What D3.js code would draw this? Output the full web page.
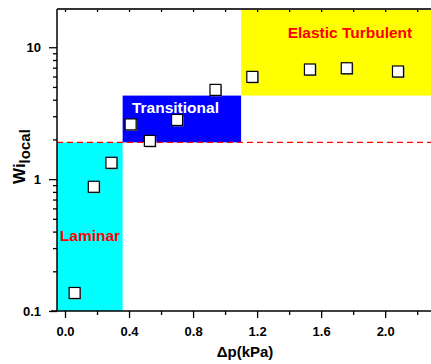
<!DOCTYPE html>
<html>
<head>
<meta charset="utf-8">
<script src="https://cdn.jsdelivr.net/npm/d3@7"></script>
<style>
  body { margin: 0; background: #fff; }
  text { font-family: "Liberation Sans", Arial, sans-serif; font-weight: bold; }
</style>
</head>
<body>
<svg class="chart" width="431" height="364"></svg>
<script>
// Data
var pressure = [0.06, 0.18, 0.29, 0.41, 0.53, 0.70, 0.94, 1.17, 1.53, 1.76, 2.08];
var wiLocal  = [0.137, 0.875, 1.33, 2.6, 1.95, 2.81, 4.75, 5.96, 6.78, 6.93, 6.55];

// Flow regimes: [x0, x1, y0, y1]
var regimeNames  = ["Laminar", "Transitional", "Elastic Turbulent"];
var regimeX      = [[-0.05, 0.36], [0.36, 1.1], [1.1, 2.3]];
var regimeY      = [[0.1, 1.9], [1.9, 4.3], [4.3, 19.5]];
var regimeColors = ["#00ffff", "#0000ff", "#ffff00"];
var regimeText   = ["#ff0000", "#ffffff", "#ff0000"];
var regimeLabelAt = [[0.156, 0.34], [0.69, 3.17], [1.78, 11.75]];

var criticalWi = 1.9;
var xTicks = [0, 0.4, 0.8, 1.2, 1.6, 2.0];
var xMinor = [0.2, 0.6, 1.0, 1.4, 1.8, 2.2];
var yTicks = [0.1, 1, 10];
var yMinor = [0.2, 0.3, 0.4, 0.5, 0.6, 0.7, 0.8, 0.9, 2, 3, 4, 5, 6, 7, 8, 9];

var svg = d3.select(".chart"),
    plotLeft = 57, plotRight = 430, plotTop = 9, plotBottom = 311;

var x = d3.scaleLinear().domain([-0.05, 2.28]).range([plotLeft, plotRight]);
var y = d3.scaleLog().domain([0.1, 19.5]).range([plotBottom, plotTop]);

// Regime boxes
var regimes = regimeNames.map(function(n, i) {
    return {name: n, x: regimeX[i], y: regimeY[i], fill: regimeColors[i], text: regimeText[i], at: regimeLabelAt[i]};
});

svg.selectAll(".regime")
    .data(regimes)
    .enter()
        .append("rect")
        .attr("class", "regime")
        .attr("x", function(d) { return x(d.x[0]); })
        .attr("y", function(d) { return y(d.y[1]); })
        .attr("width", function(d) { return x(d.x[1]) - x(d.x[0]); })
        .attr("height", function(d) { return y(d.y[0]) - y(d.y[1]); })
        .attr("fill", function(d) { return d.fill; });

svg.selectAll(".regime-label")
    .data(regimes)
    .enter()
        .append("text")
        .attr("class", "regime-label")
        .attr("x", function(d) { return x(d.at[0]); })
        .attr("y", function(d) { return y(d.at[1]); })
        .attr("text-anchor", "middle")
        .attr("font-size", "15.5px")
        .attr("fill", function(d) { return d.text; })
        .text(function(d) { return d.name; });

// Critical Wi dashed line
svg.append("line")
    .attr("x1", plotLeft).attr("x2", 431)
    .attr("y1", y(criticalWi)).attr("y2", y(criticalWi))
    .attr("stroke", "#ff0000")
    .attr("stroke-width", 1.3)
    .attr("stroke-dasharray", "6,4");

// Axes
var xAxis = svg.append("g").attr("transform", "translate(0," + plotBottom + ")");
xAxis.call(d3.axisBottom(x).tickValues(xTicks).tickSize(7).tickPadding(9).tickFormat(d3.format(".1f")));
xAxis.append("g").call(d3.axisBottom(x).tickValues(xMinor).tickSize(4).tickFormat(""));

var xTop = svg.append("g").attr("transform", "translate(0," + plotTop + ")");
xTop.call(d3.axisBottom(x).tickValues(xTicks.concat(xMinor)).tickSize(3).tickFormat(""));

var yAxis = svg.append("g").attr("transform", "translate(" + plotLeft + ",0)");
yAxis.call(d3.axisLeft(y).tickValues(yTicks).tickSize(8).tickPadding(8).tickFormat(function(d) { return d >= 1 ? d3.format("d")(d) : d; }));
yAxis.append("g").call(d3.axisLeft(y).tickValues(yMinor).tickSize(4).tickFormat(""));

svg.selectAll(".domain").remove();
svg.selectAll(".tick line").attr("stroke", "#000").attr("stroke-width", 1.3);
svg.selectAll(".tick text").attr("font-size", "13px").attr("fill", "#000");

// Frame lines
svg.append("line").attr("x1", plotLeft).attr("x2", plotLeft).attr("y1", plotTop).attr("y2", plotBottom).attr("stroke", "#000").attr("stroke-width", 1.5);
svg.append("line").attr("x1", plotLeft - 6).attr("x2", 431).attr("y1", plotBottom).attr("y2", plotBottom).attr("stroke", "#000").attr("stroke-width", 1.5);
svg.append("line").attr("x1", plotLeft).attr("x2", 431).attr("y1", plotTop).attr("y2", plotTop).attr("stroke", "#333").attr("stroke-width", 2);

// Points
var points = pressure.map(function(p, i) { return {p: p, wi: wiLocal[i]}; });
var s = 11;

svg.selectAll(".shadow")
    .data(points)
    .enter()
        .append("rect")
        .attr("class", "shadow")
        .attr("x", function(d) { return x(d.p) - s / 2 + 1; })
        .attr("y", function(d) { return y(d.wi) - s / 2 + 1; })
        .attr("width", s).attr("height", s)
        .attr("fill", "#888");

svg.selectAll(".point")
    .data(points)
    .enter()
        .append("rect")
        .attr("class", "point")
        .attr("x", function(d) { return x(d.p) - s / 2; })
        .attr("y", function(d) { return y(d.wi) - s / 2; })
        .attr("width", s).attr("height", s)
        .attr("fill", "#fff")
        .attr("stroke", "#000")
        .attr("stroke-width", 1.2);

// Axis titles
svg.append("text")
    .attr("x", 245)
    .attr("y", 357)
    .attr("text-anchor", "middle")
    .attr("font-size", "15px")
    .text("\u0394p(kPa)");

var yTitle = svg.append("text")
    .attr("transform", "translate(25,184) rotate(-90)")
    .attr("font-size", "17px");
yTitle.append("tspan").text("Wi");
yTitle.append("tspan").attr("dy", 5).attr("font-size", "15px").text("local");
</script>
</body>
</html>
